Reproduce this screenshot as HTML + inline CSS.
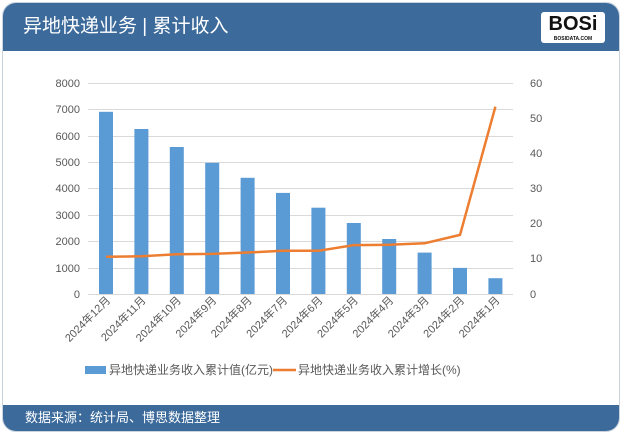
<!DOCTYPE html>
<html><head><meta charset="utf-8"><style>
body{margin:0;width:622px;height:436px;background:#fff;overflow:hidden;font-family:"Liberation Sans","Noto Sans CJK SC",sans-serif}
.card{position:absolute;left:2px;top:2px;width:616px;height:428px;border:1px solid #c9d3de;border-radius:14px;overflow:hidden;background:#fff}
.hd{position:absolute;left:0;top:0;width:100%;height:48px;background:#3b6a9b;color:#fff;font-size:19px;line-height:48px;padding-left:20px;box-sizing:border-box}
.ft{position:absolute;left:0;top:402px;width:100%;height:26px;background:#3b6a9b;color:#fff;font-size:13px;line-height:26px;padding-left:22px;box-sizing:border-box}
.logo{position:absolute;right:14px;top:9px;width:64px;height:31px;background:#fff;border-radius:3px;color:#111;font:bold 20px "Liberation Sans",sans-serif;text-align:center;line-height:24px}
.logo small{position:absolute;left:0;right:0;bottom:1px;font-size:5px;line-height:6px}
</style></head><body>
<div class="card">
<div class="hd">异地快递业务 | 累计收入</div>
<div class="logo">BOSi<small>BOSIDATA.COM</small></div>
<div class="ft">数据来源：统计局、博思数据整理</div>
</div>
<svg width="622" height="436" style="position:absolute;left:0;top:0" font-family="Liberation Sans, Noto Sans CJK SC, sans-serif">
<g stroke="#d9d9d9" stroke-width="1">
<line x1="88" x2="513" y1="83.5" y2="83.5"/><line x1="88" x2="513" y1="109.5" y2="109.5"/><line x1="88" x2="513" y1="136.5" y2="136.5"/><line x1="88" x2="513" y1="162.5" y2="162.5"/><line x1="88" x2="513" y1="188.5" y2="188.5"/><line x1="88" x2="513" y1="215.5" y2="215.5"/><line x1="88" x2="513" y1="241.5" y2="241.5"/><line x1="88" x2="513" y1="268.5" y2="268.5"/><line x1="88" x2="513" y1="294.5" y2="294.5"/>
</g>
<g font-size="11" fill="#595959" text-anchor="end">
<text x="80" y="87">8000</text><text x="80" y="113">7000</text><text x="80" y="140">6000</text><text x="80" y="166">5000</text><text x="80" y="192">4000</text><text x="80" y="219">3000</text><text x="80" y="245">2000</text><text x="80" y="272">1000</text><text x="80" y="298">0</text>
</g>
<g font-size="11" fill="#595959">
<text x="530" y="87">60</text><text x="530" y="122">50</text><text x="530" y="157">40</text><text x="530" y="192">30</text><text x="530" y="227">20</text><text x="530" y="262">10</text><text x="530" y="298">0</text>
</g>
<g fill="#5b9bd5">
<rect x="99" y="111.8" width="14" height="182.2"/><rect x="134.4" y="129" width="14" height="165"/><rect x="169.8" y="147" width="14" height="147"/><rect x="205.2" y="162.8" width="14" height="131.2"/><rect x="240.6" y="177.8" width="14" height="116.2"/><rect x="276" y="192.9" width="14" height="101.1"/><rect x="311.4" y="207.7" width="14" height="86.3"/><rect x="346.8" y="223" width="14" height="71"/><rect x="382.2" y="239" width="14" height="55"/><rect x="417.6" y="252.6" width="14" height="41.4"/><rect x="453" y="267.9" width="14" height="26.1"/><rect x="488.4" y="278.2" width="14" height="15.8"/>
</g>
<polyline fill="none" stroke="#ed7d31" stroke-width="2.5" stroke-linejoin="round" points="106,256.7 141.4,256.3 176.8,254.2 212.2,253.9 247.6,252.5 283,250.8 318.4,250.8 353.8,245.1 389.2,244.8 424.6,243.3 460,234.9 495.4,106.7"/>
<g font-size="11" fill="#595959" text-anchor="end">
<text transform="translate(111,301) rotate(-45)">2024年12月</text>
<text transform="translate(146.4,301) rotate(-45)">2024年11月</text>
<text transform="translate(181.8,301) rotate(-45)">2024年10月</text>
<text transform="translate(217.2,301) rotate(-45)">2024年9月</text>
<text transform="translate(252.6,301) rotate(-45)">2024年8月</text>
<text transform="translate(288,301) rotate(-45)">2024年7月</text>
<text transform="translate(323.4,301) rotate(-45)">2024年6月</text>
<text transform="translate(358.8,301) rotate(-45)">2024年5月</text>
<text transform="translate(394.2,301) rotate(-45)">2024年4月</text>
<text transform="translate(429.6,301) rotate(-45)">2024年3月</text>
<text transform="translate(465,301) rotate(-45)">2024年2月</text>
<text transform="translate(500.4,301) rotate(-45)">2024年1月</text>
</g>
<rect x="85" y="366" width="21" height="8" fill="#5b9bd5"/>
<text x="109" y="374" font-size="12" fill="#595959">异地快递业务收入累计值(亿元)</text>
<line x1="273" x2="296" y1="370" y2="370" stroke="#ed7d31" stroke-width="2.5"/>
<text x="298" y="374" font-size="12" fill="#595959">异地快递业务收入累计增长(%)</text>
</svg>
</body></html>
